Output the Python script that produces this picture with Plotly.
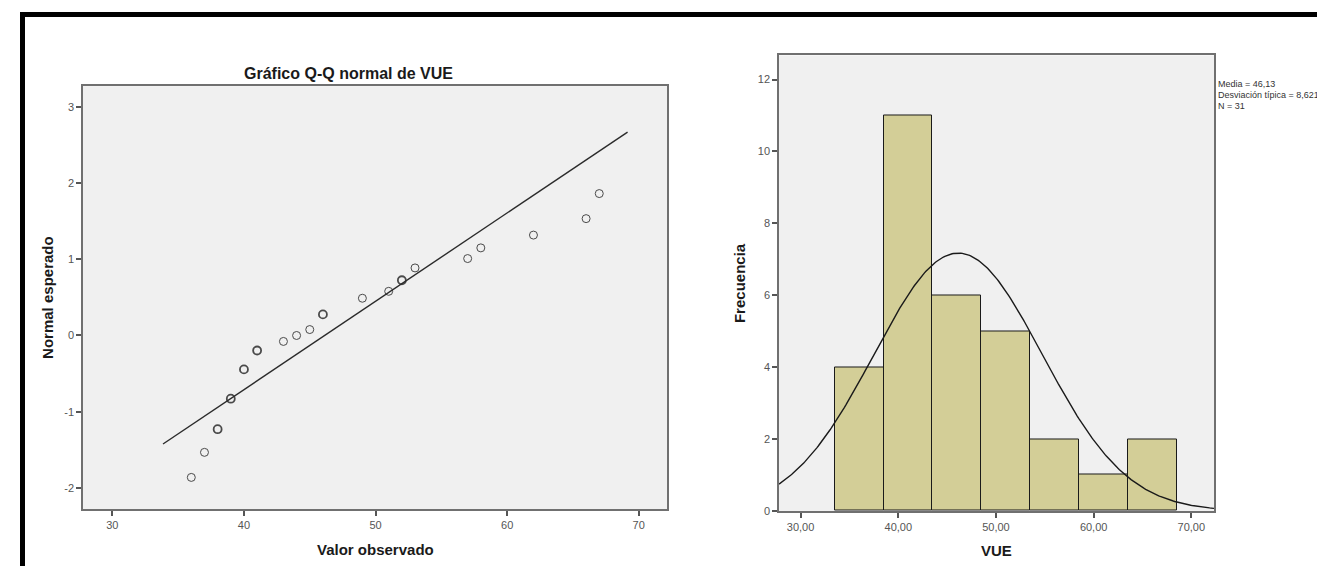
import numpy as np
import plotly.graph_objects as go

# ---------------- data ----------------
# Q-Q plot: observed values of VUE and their expected normal scores
qq_observed = [36, 37, 38, 39, 40, 41, 43, 44, 45, 46, 49, 51, 52, 53, 57, 58, 62, 66, 67]
qq_expected = [-1.863, -1.534, -1.230, -0.830, -0.445, -0.197, -0.078, 0.0, 0.078, 0.277,
               0.489, 0.580, 0.725, 0.887, 1.010, 1.150, 1.318, 1.534, 1.863]
qq_ties = [1, 1, 2, 4, 4, 2, 1, 1, 1, 4, 1, 1, 2, 1, 1, 1, 1, 1, 1]
qq_line_x = [33.85, 69.15]

# Histogram of VUE
hist_centers = [36, 41, 46, 51, 56, 61, 66]
hist_counts = [4, 11, 6, 5, 2, 1, 2]
bin_width = 5
vue_mean = 46.13
vue_sd = 8.621
vue_n = 31

qq_xticks = [30, 40, 50, 60, 70]
qq_xticktext = ["30", "40", "50", "60", "70"]
qq_yticks = [-2, -1, 0, 1, 2, 3]
qq_yticktext = ["-2", "-1", "0", "1", "2", "3"]
h_xticks = [30, 40, 50, 60, 70]
h_xticktext = ["30,00", "40,00", "50,00", "60,00", "70,00"]
h_yticks = [0, 2, 4, 6, 8, 10, 12]
h_yticktext = ["0", "2", "4", "6", "8", "10", "12"]

stats_lines = ["Media = 46,13", "Desviación típica = 8,621", "N = 31"]

# ---------------- layout geometry (pixels) ----------------
W, H = 1325, 566
def px_x(p):
    return p / W
def px_y(p):
    return 1 - p / H

FONT = "Liberation Sans, Arial, sans-serif"
TICKC = "#555555"
FRAME = "#707070"
PLOTBG = "#F0F0F0"

fig = go.Figure()

# Q-Q points
fig.add_trace(go.Scatter(
    x=qq_observed, y=qq_expected, mode="markers",
    marker=dict(symbol="circle-open", size=8, color="#4a4a4a",
                line=dict(width=[1.0 if t == 1 else 1.8 for t in qq_ties], color="#4a4a4a")),
    xaxis="x", yaxis="y", showlegend=False, hoverinfo="x+y"))

# Q-Q reference line
qq_line_y = [(v - vue_mean) / vue_sd for v in qq_line_x]
fig.add_trace(go.Scatter(
    x=qq_line_x, y=qq_line_y, mode="lines",
    line=dict(color="#2b2b2b", width=1.4),
    xaxis="x", yaxis="y", showlegend=False))

# Histogram bars
fig.add_trace(go.Bar(
    x=hist_centers, y=hist_counts, width=bin_width,
    marker=dict(color="#D3CE97", line=dict(color="#1a1a1a", width=1)),
    xaxis="x2", yaxis="y2", showlegend=False))

# Normal curve
cx = np.linspace(27.79, 72.32, 300)
cy = vue_n * bin_width * np.exp(-0.5 * ((cx - vue_mean) / vue_sd) ** 2) / (vue_sd * np.sqrt(2 * np.pi))
fig.add_trace(go.Scatter(
    x=cx, y=cy, mode="lines", line=dict(color="#1a1a1a", width=1.4),
    xaxis="x2", yaxis="y2", showlegend=False, hoverinfo="skip"))

axis_common = dict(
    showgrid=False, zeroline=False, showline=True, linecolor=FRAME, linewidth=1.5,
    mirror=True, ticks="outside", ticklen=5, tickwidth=1.5, tickcolor=TICKC,
    tickfont=dict(family=FONT, size=11, color=TICKC),
)

fig.update_layout(
    width=W, height=H,
    margin=dict(l=0, r=0, t=0, b=0),
    paper_bgcolor="white",
    plot_bgcolor=PLOTBG,
    bargap=0,
    xaxis=dict(domain=[px_x(75), px_x(659.3)], range=[27.77, 72.17], anchor="y",
               tickvals=qq_xticks, ticktext=qq_xticktext, **axis_common),
    yaxis=dict(domain=[px_y(506.7), px_y(79)], range=[-2.282, 3.273], anchor="x",
               tickvals=qq_yticks, ticktext=qq_yticktext, **axis_common),
    xaxis2=dict(domain=[px_x(771), px_x(1206)], range=[27.79, 72.32], anchor="y2",
                tickvals=h_xticks, ticktext=h_xticktext, **axis_common),
    yaxis2=dict(domain=[px_y(508.3), px_y(48)], range=[0, 12.67], anchor="x2",
                tickvals=h_yticks, ticktext=h_yticktext, **axis_common),
)

ann = []
ann.append(dict(text="<b>Gráfico Q-Q normal de VUE</b>", x=px_x(340), y=px_y(66),
                xref="paper", yref="paper", showarrow=False,
                font=dict(family=FONT, size=16, color="#1a1a1a"), xanchor="center", yanchor="middle"))
ann.append(dict(text="<b>Valor observado</b>", x=px_x(367), y=px_y(547),
                xref="paper", yref="paper", showarrow=False,
                font=dict(family=FONT, size=15, color="#1a1a1a"), xanchor="center", yanchor="middle"))
ann.append(dict(text="<b>Normal esperado</b>", x=px_x(40), y=px_y(293), textangle=-90,
                xref="paper", yref="paper", showarrow=False,
                font=dict(family=FONT, size=15, color="#1a1a1a"), xanchor="center", yanchor="middle"))
ann.append(dict(text="<b>VUE</b>", x=px_x(988), y=px_y(548),
                xref="paper", yref="paper", showarrow=False,
                font=dict(family=FONT, size=15, color="#1a1a1a"), xanchor="center", yanchor="middle"))
ann.append(dict(text="<b>Frecuencia</b>", x=px_x(731), y=px_y(278), textangle=-90,
                xref="paper", yref="paper", showarrow=False,
                font=dict(family=FONT, size=15, color="#1a1a1a"), xanchor="center", yanchor="middle"))
for i, line in enumerate(stats_lines):
    ann.append(dict(text=line, x=px_x(1209), y=px_y(77 + 11 * i),
                    xref="paper", yref="paper", showarrow=False, borderpad=0,
                    font=dict(family=FONT, size=9, color="#333333"),
                    xanchor="left", yanchor="middle"))
fig.update_layout(annotations=ann)

# Black outer frame (top and left edges)
fig.add_shape(type="line", xref="paper", yref="paper",
              x0=px_x(12), x1=px_x(1330), y0=px_y(6.5), y1=px_y(6.5),
              line=dict(color="black", width=5))
fig.add_shape(type="line", xref="paper", yref="paper",
              x0=px_x(14.5), x1=px_x(14.5), y0=px_y(4), y1=px_y(570),
              line=dict(color="black", width=5))

fig.write_html("out.html")
